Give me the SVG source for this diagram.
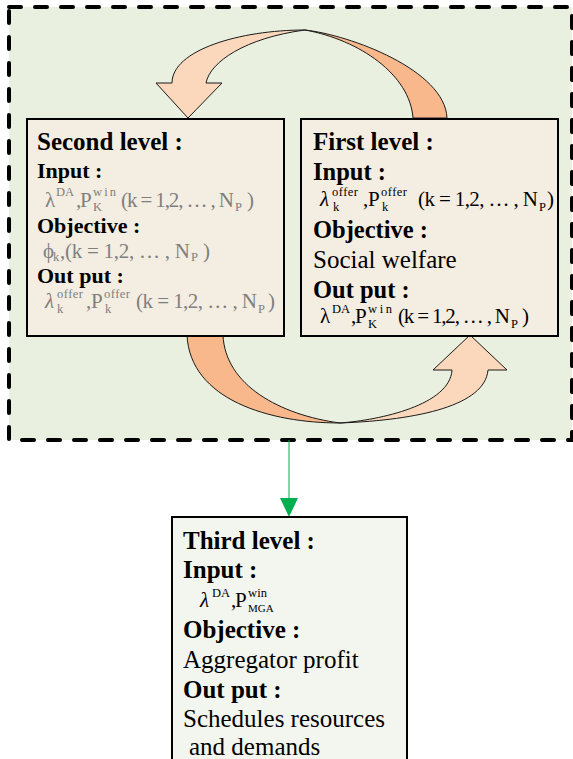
<svg xmlns="http://www.w3.org/2000/svg" width="573" height="759" viewBox="0 0 573 759">
  <style>
    text { font-family: "Liberation Serif", "Times New Roman", serif; fill: #000; }
    .t { font-size: 25px; font-weight: bold; }
    .h { font-size: 22px; font-weight: bold; }
    .h2 { font-size: 24.5px; font-weight: bold; }
    .r { font-size: 25px; }
    .m { font-size: 21px; }
    .s { font-size: 12.5px; }
    .ss { font-size: 11px; }
    .it { font-style: italic; }
    .gray text { fill: #7F7F7F; }
    .box { fill: #F4EDE1; stroke: #000; stroke-width: 2; }
    .box3 { fill: #F3F6EE; stroke: #000; stroke-width: 2; }
    .back { fill: #F8B88B; stroke: #1a1a1a; stroke-width: 1; }
    .front { fill: #FBD8BC; stroke: #1a1a1a; stroke-width: 1; }
  </style>

  <!-- dashed frame around the two-level loop -->
  <rect x="9" y="7" width="563" height="433" fill="#E9F0DF" stroke="#000" stroke-width="4" stroke-dasharray="12 14" stroke-linecap="round"/>

  <g id="connectors">
    <!-- upper curved arrow: first level back to second level -->
    <path class="back" d="M305,30 C350,35 445,70 447,118 L413,118 C410,75 360,40 305,30 Z"/>
    <path class="front" d="M305,30 C240,30 172,50 172,83 L156,83 L188,118 L222,83 L206,83 C210,62 245,38 305,30 Z"/>
    <!-- lower curved arrow: second level to first level -->
    <path class="back" d="M187,335 C190,400 270,423 340,423 C280,415 225,385 223,335 Z"/>
    <path class="front" d="M340,423 C420,420 485,405 488,370 L507,370 L470,335 L433,370 L452,370 C450,405 380,420 340,423 Z"/>
    <!-- link down to the third level -->
    <line x1="289" y1="440" x2="289" y2="500" stroke="#00B050" stroke-width="1"/>
    <polygon points="280,498 298,498 289,517" fill="#00B050"/>
  </g>

  <g id="second-level">
    <rect class="box" x="27" y="119" width="257" height="217"/>
    <text class="t" x="37" y="150">Second level :</text>
    <text class="h" x="37" y="178">Input :</text>
    <g class="gray">
      <text class="m" x="45" y="207">λ</text>
      <text class="s" x="56" y="195.5">DA</text>
      <text class="m" x="76" y="207">,</text>
      <text class="m" x="80" y="207">P</text>
      <text class="s" x="93" y="195.5" textLength="23">win</text>
      <text class="s" x="93" y="210.5">K</text>
      <text class="m" x="121" y="207" textLength="113" lengthAdjust="spacing">(k = 1,2, … , N</text>
      <text class="s" x="235" y="210.5">P</text>
      <text class="m" x="247" y="207">)</text>
    </g>
    <text class="h" x="37" y="233">Objective :</text>
    <g class="gray">
      <text class="m" x="43" y="258">ϕ</text>
      <text class="s" x="53" y="260.5">k</text>
      <text class="m" x="60" y="258">,</text>
      <text class="m" x="65" y="258" textLength="125" lengthAdjust="spacing">(k = 1,2, … , N</text>
      <text class="s" x="191" y="260.5">P</text>
      <text class="m" x="203" y="258">)</text>
    </g>
    <text class="h" x="37" y="283">Out put :</text>
    <g class="gray">
      <text class="m it" x="45" y="308">λ</text>
      <text class="s" x="57" y="298" textLength="26">offer</text>
      <text class="s" x="57" y="312.5">k</text>
      <text class="m" x="86" y="308">,</text>
      <text class="m" x="91" y="308">P</text>
      <text class="s" x="104" y="298" textLength="26">offer</text>
      <text class="s" x="105" y="312.5">k</text>
      <text class="m" x="136" y="308" textLength="121" lengthAdjust="spacing">(k = 1,2, … , N</text>
      <text class="s" x="258" y="312.5">P</text>
      <text class="m" x="268" y="308">)</text>
    </g>
  </g>

  <g id="first-level">
    <rect class="box" x="301" y="119" width="257" height="217"/>
    <text class="t" x="313" y="150">First level :</text>
    <text class="h2" x="313" y="180">Input :</text>
    <text class="m it" x="320" y="206">λ</text>
    <text class="s" x="332" y="195.5" textLength="26">offer</text>
    <text class="s" x="333" y="210.5">k</text>
    <text class="m" x="363" y="206">,</text>
    <text class="m" x="368" y="206">P</text>
    <text class="s" x="381" y="195.5" textLength="26">offer</text>
    <text class="s" x="382" y="210.5">k</text>
    <text class="m" x="418" y="206" textLength="120" lengthAdjust="spacing">(k = 1,2, … , N</text>
    <text class="s" x="539" y="210.5">P</text>
    <text class="m" x="547" y="206">)</text>
    <text class="h2" x="313" y="238">Objective :</text>
    <text class="r" x="313" y="268">Social welfare</text>
    <text class="h2" x="313" y="298">Out put :</text>
    <text class="m" x="320" y="323">λ</text>
    <text class="s" x="332" y="312.5">DA</text>
    <text class="m" x="351" y="323">,</text>
    <text class="m" x="355" y="323">P</text>
    <text class="s" x="368" y="312.5" textLength="24">win</text>
    <text class="s" x="368" y="327.5">K</text>
    <text class="m" x="398" y="323" textLength="112" lengthAdjust="spacing">(k = 1,2, … , N</text>
    <text class="s" x="511" y="327.5">P</text>
    <text class="m" x="522" y="323">)</text>
  </g>

  <g id="third-level">
    <rect class="box3" x="172" y="517" width="235" height="260"/>
    <text class="t" x="183" y="549">Third level :</text>
    <text class="t" x="183" y="578">Input :</text>
    <text class="m it" x="200" y="607">λ</text>
    <text class="s" x="212" y="596.5">DA</text>
    <text class="m" x="231" y="607">,</text>
    <text class="m" x="235" y="607">P</text>
    <text class="s" x="248" y="596.5" textLength="19">win</text>
    <text class="ss" x="248" y="611.5">MGA</text>
    <text class="t" x="183" y="638">Objective :</text>
    <text class="r" x="183" y="668">Aggregator profit</text>
    <text class="t" x="183" y="698">Out put :</text>
    <text class="r" x="183" y="727">Schedules resources</text>
    <text class="r" x="189" y="755">and demands</text>
  </g>
</svg>
